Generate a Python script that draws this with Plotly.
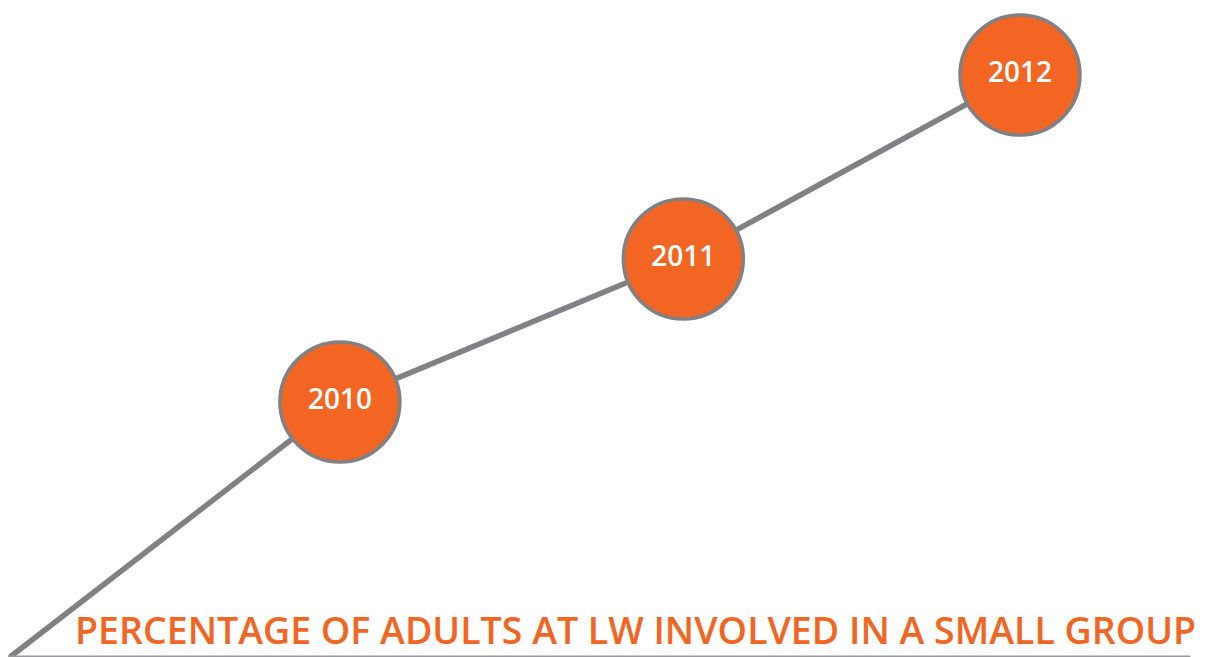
import plotly.graph_objects as go

# data
years = ["", "2010", "2011", "2012"]
x_pos = [0, 0.98, 2.0, 3.0]
values = [2, 257, 400, 584]
title = "PERCENTAGE OF ADULTS AT LW INVOLVED IN A SMALL GROUP"

orange = "#F26522"
grey = "#818185"

fig = go.Figure()

# connecting line
fig.add_trace(go.Scatter(
    x=x_pos, y=values, mode="lines",
    line=dict(color=grey, width=5.5),
    hoverinfo="skip", cliponaxis=False))

# year bubbles
fig.add_trace(go.Scatter(
    x=x_pos[1:], y=values[1:], mode="markers+text",
    text=years[1:], textposition="middle center",
    textfont=dict(family="Open Sans", size=28, color="white", weight=600),
    marker=dict(size=120, color=orange, line=dict(color=grey, width=3.5)),
    cliponaxis=False))

fig.add_annotation(
    text=title, xref="paper", yref="paper", x=0.5165, y=0.012,
    xanchor="center", yanchor="bottom", showarrow=False,
    font=dict(family="Open Sans", size=37.5, color=orange, weight=600))

fig.add_shape(type="line", xref="paper", yref="paper",
              x0=0, x1=0.974, y0=0.012, y1=0.012,
              line=dict(color="#9a9a9e", width=3))

fig.update_xaxes(visible=False, range=[-0.0059, 3.600])
fig.update_yaxes(visible=False, range=[-6, 651])
fig.update_layout(
    width=1214, height=657, margin=dict(l=0, r=0, t=0, b=0),
    plot_bgcolor="white", paper_bgcolor="white", showlegend=False)

fig.write_html("out.html")
